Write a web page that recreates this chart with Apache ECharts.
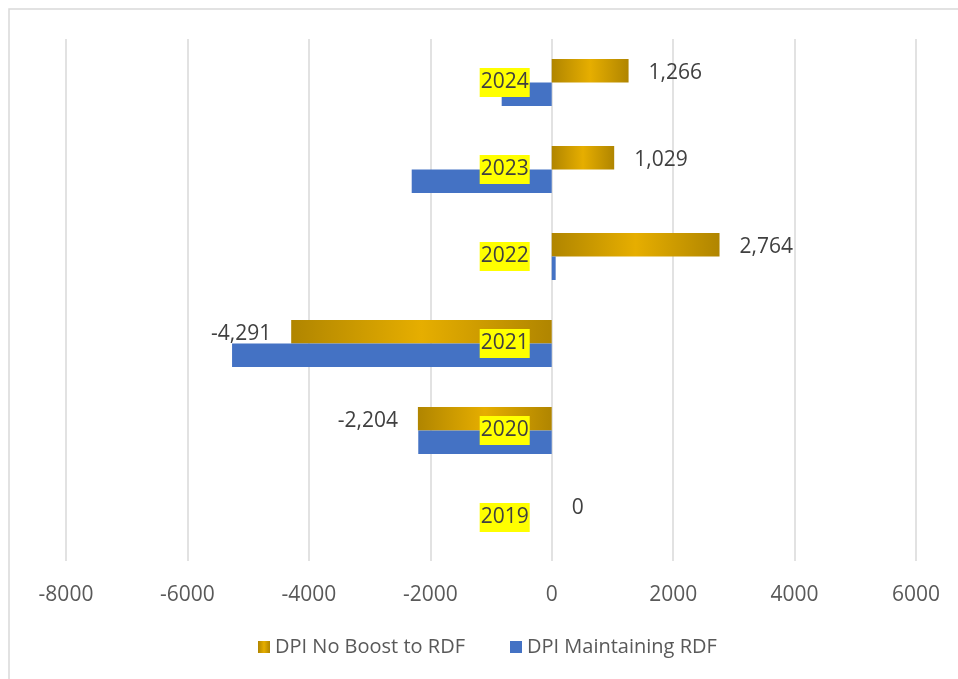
<!DOCTYPE html>
<html>
<head>
<meta charset="utf-8">
<script src="https://cdn.jsdelivr.net/npm/echarts@6/dist/echarts.min.js"></script>
<style>
  html, body { margin: 0; padding: 0; background: #fff; }
  #chart { width: 958px; height: 679px; }
</style>
</head>
<body>
<div id="chart"></div>
<script>
const categories = ['2019', '2020', '2021', '2022', '2023', '2024'];
const noBoost = [0, -2204, -4291, 2764, 1029, 1266];
const maintaining = [0, -2198, -5265, 65, -2306, -824];
const seriesNames = ['DPI No Boost to RDF', 'DPI Maintaining RDF'];

const chart = echarts.init(document.getElementById('chart'));
const gold = new echarts.graphic.LinearGradient(0, 0, 1, 0, [
  { offset: 0, color: '#b08500' },
  { offset: 0.5, color: '#e6ae00' },
  { offset: 1, color: '#b08500' }
]);
const labelFont = "'Open Sans', sans-serif";

chart.setOption({
  animation: false,
  backgroundColor: '#ffffff',
  graphic: [{
    type: 'rect',
    shape: { x: 9, y: 9, width: 1200, height: 1200 },
    style: { fill: 'none', stroke: '#d9d9d9', lineWidth: 1.5 },
    silent: true
  }],
  grid: { left: 66, right: 42, top: 39, bottom: 118, containLabel: false, outerBoundsMode: 'none' },
  legend: {
    data: seriesNames,
    left: 258,
    top: 637,
    padding: 0,
    itemWidth: 12,
    itemHeight: 12,
    itemGap: 45,
    icon: 'rect',
    textStyle: { fontFamily: labelFont, fontSize: 20, color: '#595959' }
  },
  xAxis: {
    type: 'value',
    min: -8000,
    max: 6000,
    interval: 2000,
    axisLine: { show: false },
    axisTick: { show: false },
    splitLine: { lineStyle: { color: '#d9d9d9', width: 1.5 } },
    axisLabel: {
      color: '#595959',
      fontFamily: labelFont,
      fontSize: 21,
      margin: 24,
      formatter: v => String(v)
    }
  },
  yAxis: {
    type: 'category',
    data: categories,
    axisLine: { show: false },
    axisTick: { show: false },
    axisLabel: { show: false }
  },
  series: [
    {
      name: seriesNames[0],
      type: 'bar',
      barGap: '0%',
      barCategoryGap: '46%',
      itemStyle: { color: gold },
      data: noBoost.map(v => ({
        value: v,
        label: { position: v < 0 ? 'left' : 'right' }
      })),
      label: {
        show: true,
        distance: 20,
        offset: [0, 2],
        color: '#404040',
        fontFamily: labelFont,
        fontSize: 21,
        formatter: p => Number(p.value).toLocaleString('en-US')
      },
      z: 2
    },
    {
      name: seriesNames[1],
      type: 'bar',
      barGap: '0%',
      barCategoryGap: '46%',
      itemStyle: { color: '#4472c4' },
      data: maintaining,
      z: 2
    },
    {
      name: 'categoryLabels',
      type: 'scatter',
      symbolSize: 0,
      silent: true,
      z: 5,
      itemStyle: { opacity: 1 },
      data: categories.map(c => [0, c]),
      label: {
        show: true,
        position: 'left',
        distance: 22,
        opacity: 1,
        color: '#404040',
        fontFamily: labelFont,
        fontSize: 21,
        backgroundColor: '#ffff00',
        padding: [4, 1, 4, 1],
        formatter: p => p.value[1]
      }
    }
  ]
});
</script>
</body>
</html>
